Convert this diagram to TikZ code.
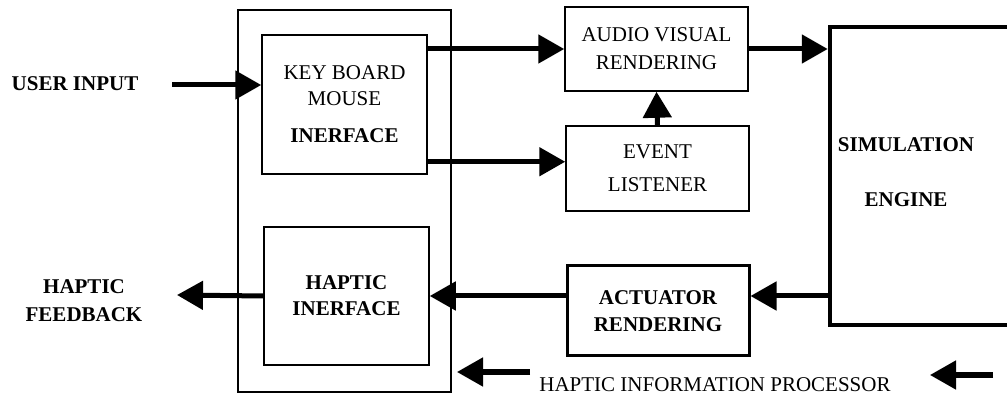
\documentclass[tikz,border=0pt]{standalone}
\usepackage{fontspec}
\setmainfont{Liberation Serif}
\usetikzlibrary{arrows.meta}

\begin{document}
\begin{tikzpicture}[x=1pt, y=-1pt,
        box/.style={draw, line width=1.5pt, inner sep=0pt, align=center, font=\fontsize{21}{28}\selectfont},
        boldbox/.style={box, font=\fontsize{21}{27}\selectfont\bfseries},
        lbl/.style={align=center, inner sep=0pt, font=\fontsize{21}{28}\selectfont\bfseries},
        arr/.style={line width=5pt, -{Triangle[length=26pt, width=28pt]}}]
        \useasboundingbox (0,0) rectangle (1007,395);
        \clip (0,0) rectangle (1007,395);

        % boxes
        \node[box, minimum width=213pt, minimum height=382pt] (outer) at (344.5,201) {};
        \node[box, minimum width=165pt, minimum height=139pt] (kbd) at (344.5,104.5) {KEY BOARD\\[-2pt]MOUSE\\[9pt]\textbf{INERFACE}};
        \node[boldbox, minimum width=165pt, minimum height=138pt] (hap) at (346.5,296) {HAPTIC\\[-1pt]INERFACE};
        \node[box, minimum width=183pt, minimum height=84pt] (av) at (656.5,49) {AUDIO VISUAL\\RENDERING};
        \node[box, minimum width=183pt, minimum height=85pt] (ev) at (657.5,168.5) {EVENT\\[5pt]LISTENER};
        \node[boldbox, line width=3pt, minimum width=182pt, minimum height=90pt] (act) at (658,311) {ACTUATOR\\RENDERING};
        \node[box, line width=4.5pt, minimum width=200pt, minimum height=298pt] (sim) at (930,176) {};

        % labels
        \node[lbl] (simtxt) at (906,172) {SIMULATION\\[27pt]ENGINE};
        \node[lbl] (ui) at (75,84) {USER INPUT};
        \node[lbl] (hfb) at (84,301) {HAPTIC\\FEEDBACK};
        \node[lbl, font=\fontsize{21}{28}\selectfont] (hip) at (715,385) {HAPTIC INFORMATION PROCESSOR};

        % connectors
        \coordinate (uiin) at (172,85);
        \coordinate (kbdlo) at ([yshift=13pt]kbd.south east);
        \coordinate (hfbout) at (177,295);
        \coordinate (hipl) at (530,372);
        \coordinate (hipltip) at (457,372);
        \coordinate (hipr) at (993,375);
        \coordinate (hiprtip) at (930,375);

        \draw[arr] (uiin) -- (uiin -| kbd.west);
        \draw[arr] (kbd.east |- av.west) -- (av.west);
        \draw[arr] (kbdlo) -- (kbdlo -| ev.west);
        \draw[arr] (ev.north) -- (av.south);
        \draw[arr] (av.east) -- (av.east -| sim.west);
        \draw[arr] (sim.west |- hap.east) -- (act.east |- hap.east);
        \draw[arr] (act.west |- hap.east) -- (hap.east);
        \draw[arr] (hap.west) -- (hfbout);
        \draw[arr] (hipl) -- (hipltip);
        \draw[arr] (hipr) -- (hiprtip);
    \end{tikzpicture}
\end{document}
